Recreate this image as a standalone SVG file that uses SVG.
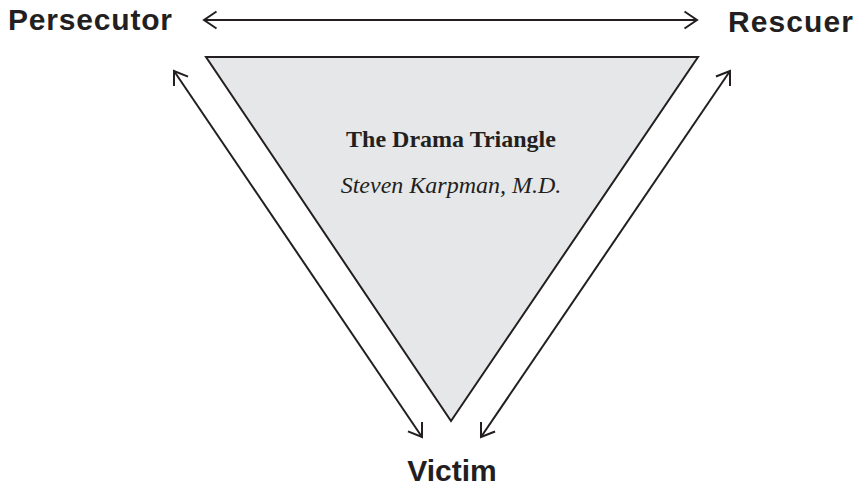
<svg xmlns="http://www.w3.org/2000/svg" width="861" height="489" viewBox="0 0 861 489">
<style>
.label{font-family:"Liberation Sans",Arial,sans-serif;font-weight:bold;font-size:30px;fill:#231f20}
.conn{stroke:#231f20;stroke-width:2;fill:none}
.title{font-family:"Liberation Serif","Times New Roman",serif;font-size:24px;fill:#231f20;text-anchor:middle}
</style>
<defs>
<marker id="ah" viewBox="0 0 20 20" refX="18" refY="10" markerWidth="20" markerHeight="20" markerUnits="userSpaceOnUse" orient="auto-start-reverse">
<path d="M5.5,1.5 L18,10 L5.5,18.5" fill="none" stroke="#231f20" stroke-width="2"/>
</marker>
</defs>
<rect width="861" height="489" fill="#ffffff"/>
<g id="triangle">
<polygon points="206,57 698,57 451,421" fill="#e6e7e8" stroke="#231f20" stroke-width="2" stroke-linejoin="miter"/>
<text class="title" x="451" y="147" font-weight="bold">The Drama Triangle</text>
<text class="title" x="451" y="193" font-style="italic">Steven Karpman, M.D.</text>
</g>
<g id="persecutor"><text class="label" x="8" y="30" textLength="164" lengthAdjust="spacing">Persecutor</text></g>
<g id="rescuer"><text class="label" x="728" y="32" textLength="125" lengthAdjust="spacing">Rescuer</text></g>
<g id="victim"><text class="label" x="452" y="481" text-anchor="middle">Victim</text></g>
<g id="connectors">
<line class="conn" x1="204" y1="20" x2="697" y2="20" marker-start="url(#ah)" marker-end="url(#ah)"/>
<line class="conn" x1="174" y1="71" x2="422" y2="437" marker-start="url(#ah)" marker-end="url(#ah)"/>
<line class="conn" x1="730" y1="71" x2="481" y2="437" marker-start="url(#ah)" marker-end="url(#ah)"/>
</g>
</svg>
